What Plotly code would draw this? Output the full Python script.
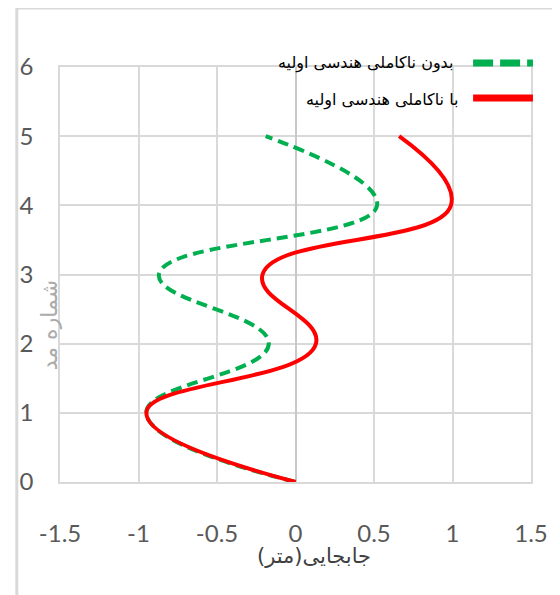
import plotly.graph_objects as go

mode_numbers = [0, 1, 2, 3, 4, 5]
disp_without = [0, -0.95, -0.17, -0.87, 0.52, -0.19]
disp_with = [0, -0.95, 0.13, -0.21, 0.99, 0.66]
x_ticks = [-1.5, -1, -0.5, 0, 0.5, 1, 1.5]
y_ticks = [0, 1, 2, 3, 4, 5, 6]
name_without = "بدون ناکاملی هندسی اولیه"
name_with = "با ناکاملی هندسی اولیه"
x_title = "جابجایی(متر)"
y_title = "شماره مد"

GREEN = "#00B050"
RED = "#FF0000"
ARFONT = "DejaVu Sans, Noto Sans, sans-serif"

fig = go.Figure()
fig.add_trace(go.Scatter(x=disp_without, y=mode_numbers, mode="lines", name=name_without,
                         line=dict(color=GREEN, width=4, dash="11px,6px", shape="spline", smoothing=1.3),
                         showlegend=False))
fig.add_trace(go.Scatter(x=disp_with, y=mode_numbers, mode="lines", name=name_with,
                         line=dict(color=RED, width=4, shape="spline", smoothing=1.3),
                         showlegend=False))

OFF = 8  # page body offset
W, H = 552, 587
L, T = 52 - OFF, 67 - OFF
R = W - (532 - OFF)
B = H - (482 - OFF)
pw, ph = W - L - R, H - T - B

def px(x):
    return (x - OFF - L) / pw

def py(y):
    return (H - B - (y - OFF)) / ph

shapes = [
    dict(type="line", xref="paper", yref="paper", x0=px(8), x1=px(8), y0=py(8), y1=py(600),
         line=dict(color="#D9D9D9", width=3)),
    dict(type="line", xref="paper", yref="paper", x0=px(8), x1=px(570), y0=py(8), y1=py(8),
         line=dict(color="#D9D9D9", width=3)),
    dict(type="line", xref="paper", yref="paper", x0=px(473), x1=px(534), y0=py(63), y1=py(63),
         line=dict(color=GREEN, width=7, dash="20px,7px")),
    dict(type="line", xref="paper", yref="paper", x0=px(473), x1=px(534), y0=py(98), y1=py(98),
         line=dict(color=RED, width=7)),
]

annotations = [
    dict(text=name_without, xref="paper", yref="paper", x=px(455), y=py(63), xanchor="right",
         yanchor="middle", showarrow=False, font=dict(family=ARFONT, size=16, color="#000000")),
    dict(text=name_with, xref="paper", yref="paper", x=px(460), y=py(100), xanchor="right",
         yanchor="middle", showarrow=False, font=dict(family=ARFONT, size=16, color="#000000")),
    dict(text=x_title, xref="paper", yref="paper", x=px(311), y=py(556), xanchor="center",
         yanchor="middle", showarrow=False, font=dict(family=ARFONT, size=21, color="#404040")),
    dict(text=y_title, xref="paper", yref="paper", x=px(41), y=py(325), xanchor="center",
         yanchor="middle", showarrow=False, textangle=-90,
         font=dict(family=ARFONT, size=22, color="#ABABAB")),
]

fig.update_layout(
    width=W, height=H,
    margin=dict(l=L, r=R, t=T, b=B),
    paper_bgcolor="white", plot_bgcolor="white",
    shapes=shapes, annotations=annotations,
    xaxis=dict(range=[-1.5, 1.5], tickvals=x_ticks, ticktext=[f"{v:g}" for v in x_ticks],
               showgrid=True, gridcolor="#D9D9D9", gridwidth=1.5,
               zeroline=True, zerolinecolor="#C8C8C8", zerolinewidth=2,
               showline=True, linecolor="#D9D9D9", linewidth=1.5, mirror=True,
               ticks="", ticklabelstandoff=29,
               tickfont=dict(family="Lato, sans-serif", size=24, color="#595959")),
    yaxis=dict(range=[0, 6], tickvals=y_ticks,
               showgrid=True, gridcolor="#D9D9D9", gridwidth=1.5, zeroline=False,
               showline=True, linecolor="#D9D9D9", linewidth=1.5, mirror=True,
               ticks="", ticklabelstandoff=20,
               tickfont=dict(family="Lato, sans-serif", size=24, color="#595959")),
)

fig.write_html("out.html")
